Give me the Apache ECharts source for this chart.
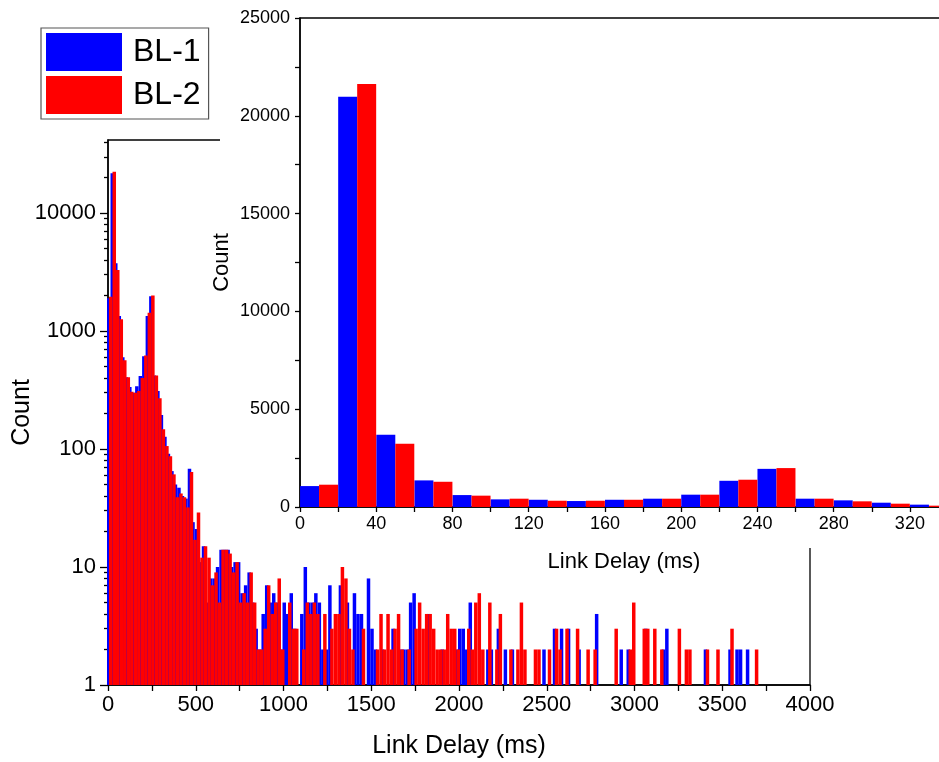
<!DOCTYPE html>
<html><head><meta charset="utf-8">
<script src="https://cdn.jsdelivr.net/npm/echarts@6/dist/echarts.min.js"></script>
<style>html,body{margin:0;padding:0;background:#fff}#c{width:939px;height:762px}</style>
</head><body><div id="c"></div>
<script>
// ---- data ----
const seriesNames = ['BL-1', 'BL-2'];
const mainBinWidth = 20; // ms, bin i covers [20i, 20i+20]
const mainBL1 = [
 1900,21700,3750,1340,600,405,335,300,340,415, 610,1340,1970,420,310,194,127,91,65,50,
 47,40,38,68,24,21,11,15,5,8, 8,10,14,14,14,10,11,11,6,7,
 9,5,3,2,4,7,5,6,5,2, 5,4,6,3,0,4,10,5,5,6,
 5,2,2,7,0,0,7,0,5,0, 6,4,4,0,8,3,2,0,2,0,
 0,3,0,2,2,2,5,6,0,0, 0,4,0,0,0,2,0,0,0,2,
 3,3,2,5,0,0,0,0,2,2, 0,3,0,2,0,2,0,0,0,0,
 0,0,0,0,2,0,0,3,0,3, 0,3,0,0,2,0,0,0,0,4,
 0,0,0,0,0,0,2,0,2,0, 0,0,0,3,0,0,0,0,2,3,
 0,0,0,0,0,0,0,0,0,0, 2,0,0,0,0,0,0,2,0,2,
 2,0,2,0,0,0
];
const mainBL2 = [
 1950,22400,3290,1260,565,405,306,300,310,400, 620,1430,2000,420,270,147,106,87,61,39,
 42,39,32,64,17,29,12,15,12,7, 9,5,14,14,13,9,11,5,6,5,
 9,5,2,2,3,7,4,5,8,2, 0,5,3,3,0,2,5,4,5,4,
 0,4,0,3,4,4,10,8,3,2, 0,0,3,0,0,0,2,4,2,4,
 2,3,4,2,0,2,0,3,5,3, 4,4,3,2,2,2,4,3,3,2,
 0,0,3,2,5,6,2,0,5,0, 2,4,0,0,2,0,2,5,2,0,
 0,2,2,0,0,2,0,3,2,0, 3,0,0,3,0,0,2,0,2,0,
 0,0,0,0,3,0,0,0,2,5, 0,0,3,3,0,3,0,2,0,0,
 0,0,3,0,2,2,0,0,0,0, 2,0,0,2,0,0,0,3,0,0,
 0,0,0,0,2,0
];
const mainYLabelValues = [1, 10, 100, 1000, 10000];
const mainYMinorValues = [2,3,4,5,6,7,8,9,20,30,40,50,60,70,80,90,200,300,400,500,600,700,800,900,
  2000,3000,4000,5000,6000,7000,8000,9000,20000,30000,40000];
const insetBinStarts = [0,20,40,60,80,100,120,140,160,180,200,220,240,260,280,300,320];
const insetBL1 = [1070,20970,3700,1360,610,390,370,305,370,425,630,1340,1950,425,340,220,120];
const insetBL2 = [1140,21630,3230,1290,580,425,320,320,370,425,630,1395,1990,425,290,170,68];

// ---- build ----
const FONT = 'Liberation Sans, Arial, sans-serif';
const mainData = arr => arr.map((v, i) => [i * mainBinWidth + mainBinWidth / 2, v > 0 ? v : '-']);
const insetData = arr => arr.map((v, i) => [insetBinStarts[i] + 10, v]);
const black = {color: '#000', width: 1.3};
const plain = v => String(Math.round(v));

const chart = echarts.init(document.getElementById('c'), null, {renderer: 'canvas'});
chart.setOption({
  animation: false,
  backgroundColor: '#fff',
  textStyle: {fontFamily: FONT},
  legend: {
    data: seriesNames, orient: 'vertical', left: 41, top: 28,
    itemWidth: 76, itemHeight: 38, itemGap: 5, padding: [5, 8, 5, 5],
    icon: 'rect', borderColor: '#555', borderWidth: 1.2, backgroundColor: '#fff',
    textStyle: {fontSize: 32, color: '#000', fontFamily: FONT, padding: [0, 3, 0, 6]},
    z: 70
  },
  graphic: [{type: 'rect', left: 220, top: 0, shape: {width: 719, height: 548}, style: {fill: '#fff'}, z: 50}],
  grid: [
    {left: 108, top: 140, width: 702, height: 545, show: true, borderColor: '#000', borderWidth: 1.3,
     backgroundColor: 'transparent', containLabel: false, outerBoundsMode: 'none'},
    {left: 300, top: 18, width: 648, height: 489, show: true, borderColor: '#000', borderWidth: 1.3,
     backgroundColor: 'transparent', z: 60, containLabel: false, outerBoundsMode: 'none'}
  ],
  xAxis: [
    {gridIndex: 0, type: 'value', min: 0, max: 4000, interval: 500,
     axisLine: {lineStyle: {color: '#000', width: 1.5}},
     axisTick: {inside: false, length: 6, lineStyle: black},
     minorTick: {show: true, splitNumber: 2, length: 6, lineStyle: black},
     axisLabel: {fontSize: 22, color: '#000', margin: 9, fontFamily: FONT, formatter: plain},
     splitLine: {show: false}, minorSplitLine: {show: false},
     name: 'Link Delay (ms)', nameLocation: 'middle', nameGap: 49, nameMoveOverlap: false,
     nameTextStyle: {fontSize: 25, color: '#000', fontFamily: FONT}},
    {gridIndex: 1, type: 'value', min: 0, max: 340, interval: 40, z: 60,
     axisLine: {lineStyle: {color: '#000', width: 1.5}},
     axisTick: {inside: false, length: 5, lineStyle: black},
     minorTick: {show: true, splitNumber: 2, length: 5, lineStyle: black},
     axisLabel: {fontSize: 18, color: '#000', margin: 8, showMaxLabel: false, fontFamily: FONT, formatter: plain},
     splitLine: {show: false}, minorSplitLine: {show: false},
     name: 'Link Delay (ms)', nameLocation: 'middle', nameGap: 44, nameMoveOverlap: false,
     nameTextStyle: {fontSize: 22, color: '#000', fontFamily: FONT}}
  ],
  yAxis: [
    {gridIndex: 0, type: 'log', logBase: 10, min: 1, max: 41600, position: 'left',
     axisLine: {show: true, lineStyle: {color: '#000', width: 1.5}},
     axisTick: {show: true, inside: false, length: 8, lineStyle: black, customValues: mainYLabelValues},
     axisLabel: {fontSize: 22, color: '#000', margin: 12, fontFamily: FONT, customValues: mainYLabelValues, formatter: plain},
     splitLine: {show: false},
     name: 'Count', nameLocation: 'middle', nameGap: 73, nameMoveOverlap: false,
     nameTextStyle: {fontSize: 25, color: '#000', fontFamily: FONT}},
    {gridIndex: 0, type: 'log', logBase: 10, min: 1, max: 41600, position: 'left',
     axisLine: {show: false},
     axisTick: {show: true, inside: false, length: 4, lineStyle: black, customValues: mainYMinorValues},
     axisLabel: {show: false}, splitLine: {show: false}},
    {gridIndex: 1, type: 'value', min: 0, max: 25000, interval: 5000, z: 60,
     axisLine: {show: true, lineStyle: {color: '#000', width: 1.5}},
     axisTick: {show: true, inside: false, length: 5, lineStyle: black},
     minorTick: {show: true, splitNumber: 2, length: 5, lineStyle: black},
     axisLabel: {fontSize: 18, color: '#000', margin: 10, fontFamily: FONT, formatter: plain},
     splitLine: {show: false}, minorSplitLine: {show: false},
     name: 'Count', nameLocation: 'middle', nameGap: 67, nameMoveOverlap: false,
     nameTextStyle: {fontSize: 22, color: '#000', fontFamily: FONT}}
  ],
  series: [
    {name: seriesNames[0], type: 'bar', xAxisIndex: 0, yAxisIndex: 0, data: mainData(mainBL1),
     barWidth: 3.5, barGap: '-43%', itemStyle: {color: '#0000ff'}, z: 2},
    {name: seriesNames[1], type: 'bar', xAxisIndex: 0, yAxisIndex: 0, data: mainData(mainBL2),
     barWidth: 3.5, barGap: '-43%', itemStyle: {color: '#ff0000'}, z: 3},
    {name: seriesNames[0], type: 'bar', xAxisIndex: 1, yAxisIndex: 2, data: insetData(insetBL1),
     barWidth: 19, barGap: '0%', itemStyle: {color: '#0000ff'}, z: 61},
    {name: seriesNames[1], type: 'bar', xAxisIndex: 1, yAxisIndex: 2, data: insetData(insetBL2),
     barWidth: 19, barGap: '0%', itemStyle: {color: '#ff0000'}, z: 61}
  ]
});
</script>
</body></html>
